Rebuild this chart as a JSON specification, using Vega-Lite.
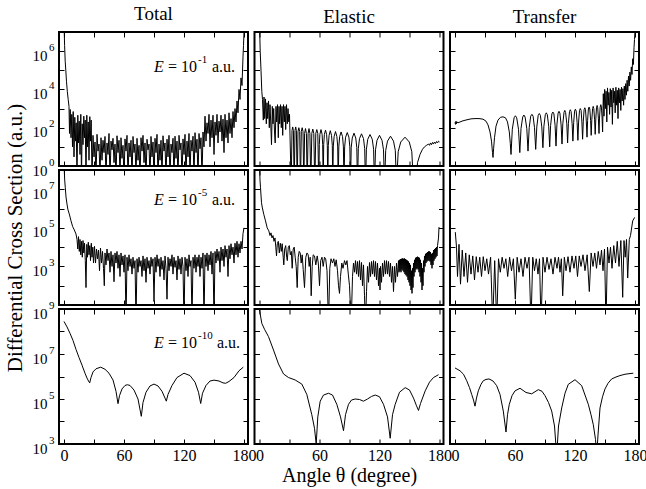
{
"$schema": "https://vega.github.io/schema/vega-lite/v6.json",
"background": "white",
"padding": {"left": 2, "top": 4, "right": 0, "bottom": 2},
"config": {
 "view": {"stroke": "black", "strokeWidth": 2},
 "axis": {"domain": false, "grid": false, "tickColor": "black", "tickSize": -5, "tickWidth": 1, "labelFont": "Liberation Serif", "labelFontSize": 16, "labelColor": "black", "labelPadding": 8, "labelOverlap": false, "labelFlush": false, "titleFont": "Liberation Serif", "titleFontSize": 21, "titleColor": "black", "titleFontWeight": "normal", "titlePadding": 7},
 "text": {"font": "Liberation Serif", "fontSize": 16, "color": "black", "baseline": "middle", "align": "left"}
},
"datasets": {
 "t1": [{"x":0,"y":3e7},{"x":0.6,"y":2e6},{"x":1.2,"y":3e5},{"x":1.8,"y":1e5},{"x":2.5,"y":2.5e4},{"x":3.3,"y":8e3},{"x":4.2,"y":3e3},{"x":5,"y":1300},{"x":5.5,"y":50},{"x":6.2,"y":900},{"x":7,"y":30},{"x":7.8,"y":500},{"x":8.5,"y":10},{"x":9.2,"y":700},{"x":10,"y":3},{"x":10.8,"y":350},{"x":11.5,"y":20},{"x":12.2,"y":180},{"x":13,"y":0.2},{"x":13.8,"y":450},{"x":14.5,"y":16},{"x":15.2,"y":220},{"x":16,"y":4},{"x":16.8,"y":500},{"x":17.5,"y":0.2},{"x":18.2,"y":160},{"x":19,"y":13},{"x":19.8,"y":400},{"x":20.5,"y":30},{"x":21.2,"y":250},{"x":22,"y":0.2},{"x":22.8,"y":450},{"x":23.5,"y":10},{"x":24.2,"y":200},{"x":25,"y":2},{"x":25.8,"y":380},{"x":26.5,"y":20},{"x":27.2,"y":250},{"x":28,"y":0.2},{"x":29,"y":40},{"x":30,"y":3},{"x":31,"y":18},{"x":32,"y":0.2},{"x":33,"y":45},{"x":34,"y":6},{"x":35,"y":14},{"x":36,"y":0.3},{"x":37,"y":30},{"x":38,"y":2},{"x":39,"y":22},{"x":40,"y":5},{"x":41,"y":35},{"x":42,"y":0.2},{"x":43,"y":16},{"x":44,"y":4},{"x":45,"y":50},{"x":46,"y":0.2},{"x":47,"y":20},{"x":48,"y":7},{"x":49,"y":28},{"x":50,"y":1.5},{"x":51,"y":14},{"x":52,"y":0.2},{"x":53,"y":38},{"x":54,"y":5},{"x":55,"y":22},{"x":56,"y":0.3},{"x":57,"y":30},{"x":58,"y":2.5},{"x":59,"y":12},{"x":60,"y":0.2},{"x":61,"y":26},{"x":62,"y":6},{"x":63,"y":40},{"x":64,"y":0.2},{"x":65,"y":16},{"x":66,"y":3},{"x":67,"y":22},{"x":68,"y":0.2},{"x":69,"y":35},{"x":70,"y":5},{"x":71,"y":14},{"x":72,"y":0.3},{"x":73,"y":28},{"x":74,"y":2},{"x":75,"y":12},{"x":76,"y":0.2},{"x":77,"y":30},{"x":78,"y":6},{"x":79,"y":40},{"x":80,"y":1.5},{"x":81,"y":16},{"x":82,"y":0.2},{"x":83,"y":25},{"x":84,"y":7},{"x":85,"y":14},{"x":86,"y":0.2},{"x":87,"y":35},{"x":88,"y":3},{"x":89,"y":18},{"x":90,"y":0.2},{"x":91,"y":28},{"x":92,"y":5},{"x":93,"y":45},{"x":94,"y":0.2},{"x":95,"y":14},{"x":96,"y":2},{"x":97,"y":22},{"x":98,"y":0.3},{"x":99,"y":38},{"x":100,"y":6},{"x":101,"y":16},{"x":102,"y":0.2},{"x":103,"y":25},{"x":104,"y":3},{"x":105,"y":40},{"x":106,"y":0.2},{"x":107,"y":14},{"x":108,"y":5},{"x":109,"y":28},{"x":110,"y":0.2},{"x":111,"y":36},{"x":112,"y":2.5},{"x":113,"y":20},{"x":114,"y":0.2},{"x":115,"y":40},{"x":116,"y":7},{"x":117,"y":16},{"x":118,"y":0.2},{"x":119,"y":26},{"x":120,"y":4},{"x":121,"y":45},{"x":122,"y":0.2},{"x":123,"y":20},{"x":124,"y":3},{"x":125,"y":50},{"x":126,"y":0.3},{"x":127,"y":22},{"x":128,"y":6},{"x":129,"y":36},{"x":130,"y":0.2},{"x":131,"y":55},{"x":132,"y":5},{"x":133,"y":25},{"x":134,"y":0.2},{"x":135,"y":50},{"x":136,"y":8},{"x":137,"y":30},{"x":138,"y":0.2},{"x":139,"y":60},{"x":140,"y":10},{"x":141,"y":400},{"x":142,"y":20},{"x":143,"y":180},{"x":144,"y":50},{"x":145,"y":500},{"x":146,"y":10},{"x":147,"y":250},{"x":148,"y":30},{"x":149,"y":450},{"x":150,"y":4},{"x":151,"y":200},{"x":152,"y":40},{"x":153,"y":500},{"x":154,"y":16},{"x":155,"y":220},{"x":156,"y":60},{"x":157,"y":450},{"x":158,"y":20},{"x":159,"y":280},{"x":160,"y":5},{"x":161,"y":500},{"x":162,"y":30},{"x":163,"y":250},{"x":164,"y":16},{"x":165,"y":600},{"x":166,"y":50},{"x":167,"y":300},{"x":168,"y":30},{"x":169,"y":700},{"x":170,"y":100},{"x":171,"y":1000},{"x":172,"y":200},{"x":173,"y":2500},{"x":174,"y":600},{"x":175,"y":1e4},{"x":176,"y":3000},{"x":177,"y":4e4},{"x":178,"y":1.6e4},{"x":179,"y":5e5},{"x":179.5,"y":2e6},{"x":180,"y":1e7}],
 "e1": [{"x":0,"y":3e7},{"x":0.7,"y":1e6},{"x":1.5,"y":1e5},{"x":2.3,"y":8e3},{"x":3,"y":3e3},{"x":3.8,"y":250},{"x":4.5,"y":4000},{"x":5.2,"y":300},{"x":6,"y":3200},{"x":6.8,"y":160},{"x":7.5,"y":2000},{"x":8.2,"y":300},{"x":9,"y":2500},{"x":9.8,"y":100},{"x":10.5,"y":1600},{"x":11.2,"y":200},{"x":12,"y":13},{"x":12.8,"y":1300},{"x":13.5,"y":160},{"x":14.2,"y":1000},{"x":15,"y":60},{"x":15.7,"y":16},{"x":16.5,"y":1300},{"x":17.2,"y":200},{"x":18,"y":1600},{"x":18.8,"y":30},{"x":19.5,"y":1300},{"x":20.2,"y":160},{"x":21,"y":1600},{"x":21.8,"y":100},{"x":22.5,"y":1300},{"x":23.2,"y":40},{"x":24,"y":1600},{"x":24.8,"y":200},{"x":25.5,"y":1300},{"x":26.2,"y":80},{"x":27,"y":1600},{"x":27.8,"y":160},{"x":28.5,"y":1000},{"x":29.3,"y":200},{"x":30,"y":500},
  {"x":31.7,"y":0.1},{"x":32.5,"y":70},{"x":33.2,"y":110},{"x":33.9,"y":70},{"x":34.7,"y":0.1},{"x":35.5,"y":70},{"x":36.2,"y":110},{"x":36.9,"y":70},{"x":37.7,"y":0.1},{"x":38.5,"y":63},{"x":39.35,"y":100},{"x":40.2,"y":63},{"x":41,"y":0.1},{"x":41.8,"y":63},{"x":42.65,"y":100},{"x":43.5,"y":63},{"x":44.3,"y":0.1},{"x":45.1,"y":50},{"x":46,"y":90},{"x":46.9,"y":50},{"x":47.7,"y":0.1},{"x":48.6,"y":50},{"x":49.5,"y":90},{"x":50.4,"y":50},{"x":51.3,"y":0.1},{"x":52.3,"y":50},{"x":53.3,"y":85},{"x":54.3,"y":50},{"x":55.3,"y":0.1},{"x":56.3,"y":50},{"x":57.3,"y":80},{"x":58.3,"y":50},{"x":59.3,"y":0.1},{"x":59.8,"y":13},{"x":60.4,"y":45},{"x":61.5,"y":80},{"x":62.6,"y":45},{"x":63.2,"y":13},{"x":63.7,"y":0.1},{"x":64.2,"y":13},{"x":64.9,"y":45},{"x":66,"y":75},{"x":67.1,"y":45},{"x":67.8,"y":12},{"x":68.3,"y":0.1},{"x":68.8,"y":12},{"x":69.6,"y":40},{"x":70.8,"y":70},{"x":72,"y":40},{"x":72.8,"y":12},{"x":73.3,"y":0.1},{"x":73.8,"y":11},{"x":74.65,"y":35},{"x":76,"y":63},{"x":77.35,"y":35},{"x":78.2,"y":11},{"x":78.7,"y":0.1},{"x":79.3,"y":10},{"x":80.15,"y":34},{"x":81.6,"y":60},{"x":83.05,"y":34},{"x":83.9,"y":10},{"x":84.5,"y":0.1},{"x":85.15,"y":10},{"x":86.1,"y":32},{"x":87.75,"y":56},{"x":89.4,"y":32},{"x":90.35,"y":10},{"x":91,"y":0.1},{"x":91.7,"y":9},{"x":92.75,"y":29},{"x":94.5,"y":52},{"x":96.25,"y":29},{"x":97.3,"y":9},{"x":98,"y":0.1},{"x":98.8,"y":8},{"x":100,"y":27},{"x":102,"y":48},{"x":104,"y":27},{"x":105.2,"y":8},{"x":106,"y":0.1},{"x":106.9,"y":7.5},{"x":108.25,"y":25},{"x":110.5,"y":44},{"x":112.75,"y":25},{"x":114.1,"y":7.5},{"x":115,"y":0.1},{"x":116,"y":7},{"x":117.5,"y":22},{"x":120,"y":40},{"x":122.5,"y":22},{"x":124,"y":7},{"x":125,"y":0.1},{"x":126.2,"y":6.5},{"x":128,"y":20},{"x":131,"y":36},{"x":134,"y":20},{"x":135.8,"y":6.5},{"x":137,"y":0.1},{"x":138.7,"y":5.6},{"x":141.25,"y":18},{"x":145.5,"y":32},{"x":149.75,"y":18},{"x":152.3,"y":5.6},{"x":154,"y":0.1},{"x":156.5,"y":0.1},{"x":158,"y":1.5},{"x":160.5,"y":4},{"x":163,"y":7.5},{"x":165,"y":10},{"x":167,"y":12},{"x":169,"y":14},{"x":170,"y":12},{"x":171,"y":16},{"x":172,"y":13},{"x":173,"y":17},{"x":174,"y":14},{"x":175,"y":18},{"x":176,"y":15},{"x":177,"y":19},{"x":178,"y":16},{"x":179,"y":20},{"x":180,"y":18}],
 "r1": [{"x":0,"y":190},{"x":0.5,"y":150},{"x":1,"y":220},{"x":1.5,"y":160},{"x":2,"y":200},{"x":3,"y":180},{"x":5,"y":200},{"x":8,"y":230},{"x":12,"y":260},{"x":16,"y":290},{"x":20,"y":300},{"x":24,"y":300},{"x":28,"y":280},{"x":31,"y":220},{"x":33,"y":140},{"x":35,"y":60},{"x":36.5,"y":20},{"x":37.5,"y":5},{"x":38,"y":2.8},{"x":38.6,"y":8},{"x":39.5,"y":30},{"x":41,"y":120},{"x":43,"y":250},{"x":45.5,"y":350},{"x":48,"y":370},{"x":50.5,"y":330},{"x":52.5,"y":200},{"x":54.3,"y":60},{"x":55.3,"y":15},{"x":56,"y":4},
  {"x":57.3,"y":83},{"x":59.1,"y":330},{"x":60.4,"y":420},{"x":61.7,"y":330},{"x":63.5,"y":83},{"x":64.8,"y":5},{"x":66,"y":90},{"x":67.7,"y":360},{"x":68.9,"y":460},{"x":70.1,"y":360},{"x":71.8,"y":90},{"x":73,"y":6},{"x":74.2,"y":100},{"x":75.7,"y":400},{"x":76.9,"y":500},{"x":78.1,"y":400},{"x":79.5,"y":100},{"x":80.7,"y":7.4},{"x":81.8,"y":110},{"x":83.2,"y":440},{"x":84.3,"y":550},{"x":85.4,"y":440},{"x":86.8,"y":110},{"x":87.9,"y":9},{"x":88.9,"y":120},{"x":90.3,"y":480},{"x":91.3,"y":600},{"x":92.3,"y":480},{"x":93.7,"y":120},{"x":94.7,"y":10},{"x":95.6,"y":130},{"x":96.9,"y":530},{"x":97.9,"y":660},{"x":98.9,"y":530},{"x":100.1,"y":130},{"x":101,"y":11},{"x":101.9,"y":140},{"x":103.1,"y":580},{"x":104,"y":720},{"x":104.9,"y":580},{"x":106.1,"y":140},{"x":107,"y":14},{"x":107.8,"y":160},{"x":109,"y":630},{"x":109.8,"y":800},{"x":110.6,"y":630},{"x":111.8,"y":160},{"x":112.6,"y":16},{"x":113.4,"y":170},{"x":114.5,"y":700},{"x":115.3,"y":870},{"x":116.1,"y":700},{"x":117.1,"y":170},{"x":117.9,"y":20},{"x":118.7,"y":190},{"x":119.6,"y":740},{"x":120.4,"y":930},{"x":121.2,"y":740},{"x":122.1,"y":190},{"x":122.9,"y":22},{"x":123.6,"y":200},{"x":124.5,"y":800},{"x":125.3,"y":1000},{"x":126.1,"y":800},{"x":126.9,"y":200},{"x":127.6,"y":25},{"x":128.3,"y":220},{"x":129.1,"y":870},{"x":129.8,"y":1100},{"x":130.5,"y":870},{"x":131.3,"y":220},{"x":132,"y":32},{"x":132.6,"y":240},{"x":133.4,"y":950},{"x":134.1,"y":1200},{"x":134.8,"y":950},{"x":135.6,"y":240},{"x":136.2,"y":40},{"x":136.8,"y":260},{"x":137.6,"y":1000},{"x":138.2,"y":1300},{"x":138.8,"y":1000},{"x":139.6,"y":260},{"x":140.2,"y":45},{"x":140.8,"y":290},{"x":141.5,"y":1100},{"x":142.1,"y":1450},{"x":142.7,"y":1100},{"x":143.4,"y":290},{"x":144,"y":50},{"x":144.5,"y":320},{"x":145.2,"y":1200},{"x":145.8,"y":1600},{"x":146.4,"y":1200},{"x":147.1,"y":320},{"x":147.6,"y":60},
  {"x":148.3,"y":6000},{"x":149,"y":400},{"x":149.7,"y":1e4},{"x":150.4,"y":1000},{"x":151.1,"y":8000},{"x":151.8,"y":200},{"x":152.5,"y":1.2e4},{"x":153.2,"y":1500},{"x":153.9,"y":7000},{"x":154.6,"y":500},{"x":155.3,"y":1.1e4},{"x":156,"y":1200},{"x":156.7,"y":9000},{"x":157.4,"y":150},{"x":158.1,"y":1.2e4},{"x":158.8,"y":2000},{"x":159.5,"y":8000},{"x":160.2,"y":600},{"x":160.9,"y":1.3e4},{"x":161.6,"y":1500},{"x":162.3,"y":9000},{"x":163,"y":300},{"x":163.7,"y":1.2e4},{"x":164.4,"y":2000},{"x":165.1,"y":1e4},{"x":165.8,"y":800},{"x":166.5,"y":1.3e4},{"x":167.2,"y":2500},{"x":167.9,"y":1.1e4},{"x":168.6,"y":1500},{"x":169.3,"y":1.5e4},{"x":170,"y":3000},{"x":170.7,"y":2e4},{"x":171.4,"y":5000},{"x":172.1,"y":3e4},{"x":172.8,"y":8000},{"x":173.5,"y":5e4},{"x":174.2,"y":1.5e4},{"x":174.9,"y":8e4},{"x":175.6,"y":3e4},{"x":176.3,"y":1.5e5},{"x":177,"y":6e4},{"x":177.7,"y":4e5},{"x":178.4,"y":2e5},{"x":179,"y":1.5e6},{"x":179.5,"y":4e6},{"x":180,"y":1.2e7}],
 "t2": [{"x":0,"y":2e8},{"x":0.7,"y":3e7},{"x":1.3,"y":1.2e7},{"x":2,"y":4e6},{"x":3,"y":1.7e6},{"x":4,"y":8.5e5},{"x":5.3,"y":5.2e5},{"x":7,"y":2.3e5},{"x":8.7,"y":1.15e5},{"x":10.3,"y":7.8e4},{"x":12,"y":4.8e4},{"x":13,"y":2.5e4},{"x":13.8,"y":8000},{"x":14.5,"y":3.5e4},{"x":15.3,"y":6000},{"x":16,"y":2.5e4},{"x":16.8,"y":4000},{"x":17.5,"y":2e4},{"x":18.3,"y":3000},{"x":19,"y":2.2e4},{"x":19.8,"y":5000},{"x":20.5,"y":1.6e4},{"x":21.3,"y":2000},{"x":22,"y":80},{"x":22.8,"y":1.4e4},{"x":23.5,"y":3000},{"x":24.3,"y":1.8e4},{"x":25,"y":4000},{"x":25.8,"y":1.2e4},{"x":26.5,"y":2000},{"x":27.3,"y":1.6e4},{"x":28,"y":3000},{"x":28.8,"y":1e4},{"x":29.5,"y":1500},{"x":30.5,"y":1.1e4},{"x":31.5,"y":1500},{"x":32.5,"y":8000},{"x":33.5,"y":2500},{"x":34.5,"y":7000},{"x":35.5,"y":600},{"x":36.5,"y":9000},{"x":37.5,"y":1500},{"x":38.5,"y":6000},{"x":39.5,"y":800},{"x":40.3,"y":100},{"x":41,"y":5000},{"x":42,"y":1200},{"x":43,"y":8000},{"x":44,"y":2000},{"x":45,"y":5000},{"x":46,"y":500},{"x":47,"y":6000},{"x":48,"y":1000},{"x":49,"y":4000},{"x":50,"y":160},{"x":51,"y":5000},{"x":52,"y":1500},{"x":53,"y":6000},{"x":54,"y":800},{"x":55,"y":4000},{"x":56,"y":300},{"x":57,"y":5000},{"x":58,"y":1200},{"x":59,"y":3500},{"x":60,"y":500},{"x":61,"y":4000},{"x":62,"y":1},{"x":63,"y":3000},{"x":64,"y":600},{"x":65,"y":4000},{"x":66,"y":1000},{"x":67,"y":2500},{"x":68,"y":400},{"x":69,"y":3000},{"x":70,"y":800},{"x":71,"y":2000},{"x":72,"y":1},{"x":73,"y":2500},{"x":74,"y":500},{"x":75,"y":3000},{"x":76,"y":1000},{"x":77,"y":2000},{"x":78,"y":300},{"x":79,"y":3500},{"x":80,"y":600},{"x":81,"y":2500},{"x":82,"y":150},{"x":83,"y":3000},{"x":84,"y":800},{"x":85,"y":2000},{"x":86,"y":400},{"x":87,"y":3000},{"x":88,"y":1000},{"x":89,"y":2500},{"x":90,"y":15},{"x":91,"y":3000},{"x":92,"y":500},{"x":93,"y":4000},{"x":94,"y":1000},{"x":95,"y":2500},{"x":96,"y":300},{"x":97,"y":3000},{"x":98,"y":700},{"x":99,"y":2000},{"x":100,"y":200},{"x":101,"y":3500},{"x":102,"y":800},{"x":103,"y":20},{"x":104,"y":3000},{"x":105,"y":600},{"x":106,"y":2500},{"x":107,"y":1000},{"x":108,"y":4000},{"x":109,"y":400},{"x":110,"y":3000},{"x":111,"y":900},{"x":112,"y":2000},{"x":113,"y":200},{"x":114,"y":3500},{"x":115,"y":700},{"x":116,"y":2500},{"x":117,"y":400},{"x":118,"y":3000},{"x":119,"y":1000},{"x":120,"y":1},{"x":121,"y":3000},{"x":122,"y":600},{"x":123,"y":2500},{"x":124,"y":300},{"x":125,"y":4000},{"x":126,"y":1000},{"x":127,"y":2000},{"x":128,"y":1},{"x":129,"y":3000},{"x":130,"y":800},{"x":131,"y":4000},{"x":132,"y":500},{"x":133,"y":3000},{"x":134,"y":1000},{"x":135,"y":4000},{"x":136,"y":300},{"x":137,"y":3000},{"x":138,"y":800},{"x":139,"y":5000},{"x":140,"y":1},{"x":141,"y":4000},{"x":142,"y":1000},{"x":143,"y":5000},{"x":144,"y":600},{"x":145,"y":4000},{"x":146,"y":1200},{"x":147,"y":6000},{"x":148,"y":400},{"x":149,"y":5000},{"x":150,"y":1},{"x":151,"y":6000},{"x":152,"y":1500},{"x":153,"y":8000},{"x":154,"y":2000},{"x":155,"y":6000},{"x":156,"y":500},{"x":157,"y":1e4},{"x":158,"y":2000},{"x":159,"y":8000},{"x":160,"y":1000},{"x":161,"y":1.2e4},{"x":162,"y":3000},{"x":163,"y":8000},{"x":164,"y":300},{"x":165,"y":1.2e4},{"x":166,"y":2500},{"x":167,"y":1.5e4},{"x":168,"y":4000},{"x":169,"y":1e4},{"x":170,"y":1500},{"x":171,"y":1.6e4},{"x":172,"y":4000},{"x":173,"y":2e4},{"x":174,"y":3000},{"x":175,"y":1.5e4},{"x":176,"y":5000},{"x":177,"y":2e4},{"x":178,"y":8000},{"x":179,"y":5e4},{"x":180,"y":1e5}],
 "e2": [{"x":0,"y":2e8},{"x":0.5,"y":3e7},{"x":1,"y":1.2e7},{"x":2,"y":2e6},{"x":2.7,"y":1.2e6},{"x":4.3,"y":5e5},{"x":6,"y":2.3e5},{"x":7.7,"y":1e5},{"x":9.3,"y":7e4},{"x":10.5,"y":4e4},{"x":11.5,"y":5.5e4},{"x":12.5,"y":3e4},{"x":13.5,"y":4e4},{"x":14.5,"y":2e4},{"x":15.5,"y":3e4},{"x":16.3,"y":1e4},{"x":17,"y":3500},{"x":17.8,"y":1.5e4},{"x":18.8,"y":2e4},{"x":19.8,"y":5000},{"x":20.8,"y":1.6e4},{"x":21.8,"y":6000},{"x":22.7,"y":1.5e4},{"x":23.7,"y":3000},{"x":24.3,"y":1200},{"x":25.2,"y":8000},{"x":26.2,"y":1.2e4},{"x":27.2,"y":3000},{"x":27.8,"y":2000},{"x":28.8,"y":1e4},{"x":29.8,"y":1.2e4},{"x":30.8,"y":4000},{"x":31.8,"y":6000},{"x":32.7,"y":800},{"x":33.7,"y":8000},{"x":34.7,"y":1e4},{"x":35.7,"y":3000},{"x":36.7,"y":1000},{"x":37.7,"y":80},{"x":38.7,"y":3000},{"x":39.7,"y":6000},{"x":40.7,"y":5000},{"x":41.7,"y":1500},{"x":42.7,"y":4000},{"x":43.7,"y":700},{"x":45,"y":80},{"x":46.3,"y":3000},{"x":47.5,"y":5000},{"x":48.7,"y":4000},{"x":49.7,"y":1000},{"x":50.7,"y":3000},{"x":51.7,"y":30},{"x":52.7,"y":1000},{"x":53.7,"y":4000},{"x":55,"y":3500},{"x":56.3,"y":1200},{"x":57.7,"y":3500},{"x":58.8,"y":1500},{"x":60,"y":100},{"x":61.2,"y":2000},{"x":62.5,"y":3000},{"x":63.7,"y":1000},{"x":65,"y":3000},{"x":66.2,"y":2500},{"x":67.5,"y":600},{"x":69,"y":1},{"x":70.3,"y":800},{"x":71.5,"y":2500},{"x":73,"y":1500},{"x":74.3,"y":2500},{"x":75.5,"y":1000},{"x":76.7,"y":2200},{"x":78,"y":600},{"x":79,"y":100},{"x":80,"y":40},{"x":81,"y":300},{"x":82.3,"y":1500},{"x":83.5,"y":800},{"x":85,"y":2000},{"x":86.3,"y":1200},{"x":87.5,"y":2000},{"x":88.8,"y":400},{"x":90,"y":100},{"x":91.7,"y":1},{"x":93,"y":300},{"x":94,"y":1500},{"x":95,"y":500},{"x":96,"y":2000},{"x":97,"y":400},{"x":98,"y":1800},{"x":99,"y":300},{"x":100,"y":2000},{"x":101,"y":200},{"x":102,"y":1600},{"x":103,"y":100},{"x":104,"y":1200},{"x":105,"y":30},{"x":106,"y":1},{"x":107,"y":50},{"x":108,"y":1000},{"x":109,"y":150},{"x":110,"y":1600},{"x":111,"y":300},{"x":112,"y":1800},{"x":113,"y":400},{"x":114,"y":2000},{"x":115,"y":300},{"x":116,"y":1800},{"x":117,"y":200},{"x":118,"y":1500},{"x":119,"y":100},{"x":120,"y":800},{"x":120.5,"y":60},{"x":121,"y":1000},{"x":122,"y":150},{"x":123,"y":1500},{"x":124,"y":300},{"x":125,"y":2000},{"x":126,"y":400},{"x":127,"y":2000},{"x":128,"y":400},{"x":129,"y":1800},{"x":130,"y":300},{"x":131,"y":1500},{"x":132,"y":150},{"x":133,"y":1000},{"x":134,"y":50},{"x":135,"y":1000},{"x":136,"y":150},{"x":137,"y":1500},{"x":138,"y":300},{"x":139,"y":2000},{"x":139.5,"y":500},{"x":140,"y":2200},{"x":140.5,"y":600},{"x":141,"y":2400},{"x":141.5,"y":500},{"x":142,"y":2500},{"x":142.5,"y":700},{"x":143,"y":2600},{"x":143.5,"y":600},{"x":144,"y":2500},{"x":144.5,"y":500},{"x":145,"y":2600},{"x":145.5,"y":400},{"x":146,"y":2400},{"x":146.5,"y":350},{"x":147,"y":2200},{"x":147.5,"y":300},{"x":148,"y":2000},{"x":148.5,"y":200},{"x":149,"y":1800},{"x":149.5,"y":150},{"x":150,"y":1500},{"x":150.5,"y":100},{"x":151,"y":1200},{"x":151.5,"y":60},{"x":152,"y":600},{"x":152.5,"y":40},{"x":153,"y":800},{"x":153.5,"y":80},{"x":154,"y":1500},{"x":154.5,"y":300},{"x":155,"y":2200},{"x":155.5,"y":500},{"x":156,"y":2800},{"x":156.5,"y":700},{"x":157,"y":3000},{"x":157.5,"y":800},{"x":158,"y":3200},{"x":158.5,"y":700},{"x":159,"y":3000},{"x":159.5,"y":500},{"x":160,"y":2800},{"x":160.5,"y":300},{"x":161,"y":2200},{"x":161.5,"y":150},{"x":162,"y":1500},{"x":162.5,"y":60},{"x":163,"y":800},{"x":163.5,"y":100},{"x":164,"y":2000},{"x":164.5,"y":500},{"x":165,"y":3500},{"x":165.5,"y":1000},{"x":166,"y":4500},{"x":166.5,"y":1500},{"x":167,"y":5000},{"x":167.5,"y":1800},{"x":168,"y":5500},{"x":168.5,"y":2000},{"x":169,"y":6000},{"x":169.5,"y":2000},{"x":170,"y":6000},{"x":170.5,"y":1800},{"x":171,"y":5500},{"x":171.5,"y":1200},{"x":172,"y":4500},{"x":172.5,"y":800},{"x":173,"y":5000},{"x":173.5,"y":1200},{"x":174,"y":7000},{"x":174.5,"y":2000},{"x":175,"y":8000},{"x":175.5,"y":2500},{"x":176,"y":9000},{"x":176.5,"y":3000},{"x":177,"y":1e4},{"x":177.5,"y":3500},{"x":178,"y":1.2e4},{"x":179,"y":3e4},{"x":179.5,"y":1.1e5}],
 "r2": [{"x":0.3,"y":6e4},{"x":1.5,"y":1e4},{"x":2.5,"y":300},{"x":4,"y":1.4e4},{"x":5.5,"y":120},{"x":7.25,"y":7000},{"x":9,"y":300},{"x":10.75,"y":5000},{"x":12.5,"y":150},{"x":14.25,"y":4000},{"x":16,"y":400},{"x":17.75,"y":3500},{"x":19.5,"y":200},{"x":21.25,"y":3200},{"x":23,"y":500},{"x":24.75,"y":3000},{"x":26.5,"y":300},{"x":28.25,"y":3200},{"x":30,"y":600},{"x":31.75,"y":2500},{"x":33.5,"y":400},{"x":35.6,"y":3000},{"x":37.7,"y":1},{"x":39.7,"y":2000},{"x":41.7,"y":1},{"x":43.5,"y":2500},{"x":45.3,"y":500},{"x":47.15,"y":3000},{"x":49,"y":800},{"x":50.85,"y":2500},{"x":52.7,"y":300},{"x":54.6,"y":3000},{"x":56.5,"y":600},{"x":58.4,"y":2500},{"x":60.3,"y":20},{"x":62.15,"y":3000},{"x":64,"y":500},{"x":66,"y":2500},{"x":68,"y":300},{"x":70,"y":3000},{"x":72,"y":800},{"x":74,"y":3000},{"x":76,"y":1},{"x":77.75,"y":3000},{"x":79.5,"y":600},{"x":81.25,"y":2500},{"x":83,"y":400},{"x":84.5,"y":2500},{"x":86,"y":1},{"x":88,"y":3000},{"x":90,"y":500},{"x":92,"y":3000},{"x":94,"y":700},{"x":96,"y":2500},{"x":98,"y":400},{"x":100,"y":3000},{"x":102,"y":800},{"x":103.5,"y":3000},{"x":105,"y":500},{"x":106.35,"y":2500},{"x":107.7,"y":30},{"x":109.35,"y":3000},{"x":111,"y":600},{"x":113,"y":3200},{"x":115,"y":500},{"x":117,"y":3500},{"x":119,"y":800},{"x":120.75,"y":3500},{"x":122.5,"y":300},{"x":124.25,"y":3500},{"x":126,"y":1000},{"x":128,"y":4000},{"x":130,"y":600},{"x":132.15,"y":4000},{"x":134.3,"y":50},{"x":136.15,"y":5000},{"x":138,"y":1000},{"x":139.75,"y":5000},{"x":141.5,"y":800},{"x":143.25,"y":6000},{"x":145,"y":1200},{"x":146.5,"y":7000},{"x":148,"y":600},{"x":149.5,"y":8000},{"x":151,"y":1},{"x":152.5,"y":1e4},{"x":154,"y":1500},{"x":155.5,"y":1e4},{"x":157,"y":800},{"x":158.75,"y":1.2e4},{"x":160.5,"y":1500},{"x":162.25,"y":2e4},{"x":164,"y":1000},{"x":165.85,"y":2.2e4},{"x":167.7,"y":25},{"x":169,"y":2.2e4},{"x":170.2,"y":3000},{"x":171.5,"y":2.5e4},{"x":172.7,"y":250},{"x":174.3,"y":2.5e4},{"x":175.5,"y":4e4},{"x":177.7,"y":2.3e5},{"x":179.7,"y":3.5e5}],
 "t3": [{"x":0,"y":2.8e8},{"x":3,"y":1.6e8},{"x":6,"y":8.3e7},{"x":9,"y":4e7},{"x":12,"y":1.6e7},{"x":15,"y":7e6},{"x":18,"y":3.2e6},{"x":21,"y":1.4e6},{"x":23,"y":8.5e5},{"x":24.5,"y":6.3e5},{"x":25.7,"y":5.2e5},{"x":27,"y":9e5},{"x":29,"y":1.6e6},{"x":32,"y":2.2e6},{"x":36.7,"y":2.6e6},{"x":41,"y":2.1e6},{"x":45,"y":1.4e6},{"x":49,"y":7e5},{"x":52,"y":2.2e5},{"x":54,"y":6.2e4},{"x":55.5,"y":1.4e5},{"x":58,"y":2.8e5},{"x":61,"y":4e5},{"x":63.3,"y":4.3e5},{"x":66,"y":4e5},{"x":70,"y":2.5e5},{"x":74,"y":1e5},{"x":77.3,"y":1.7e4},{"x":79,"y":7e4},{"x":82,"y":2e5},{"x":86,"y":3.8e5},{"x":90,"y":4.6e5},{"x":94,"y":3.8e5},{"x":98,"y":2.2e5},{"x":101,"y":1.1e5},{"x":102.3,"y":8e4},{"x":104,"y":1.6e5},{"x":108,"y":4e5},{"x":113,"y":9e5},{"x":120,"y":1.4e6},{"x":126,"y":1.1e6},{"x":131,"y":5.6e5},{"x":134.5,"y":2e5},{"x":136.7,"y":6.3e4},{"x":138.5,"y":1.8e5},{"x":142,"y":4e5},{"x":146,"y":6.3e5},{"x":150,"y":6.9e5},{"x":155,"y":6.3e5},{"x":159,"y":5.2e5},{"x":161.7,"y":5e5},{"x":165,"y":6e5},{"x":170,"y":9e5},{"x":175,"y":1.8e6},{"x":179.3,"y":2.6e6}],
 "e3": [{"x":0,"y":9e8},{"x":2.3,"y":2.3e8},{"x":5,"y":1.26e8},{"x":9,"y":5.9e7},{"x":14,"y":1.5e7},{"x":19,"y":3.6e6},{"x":24,"y":1.3e6},{"x":29,"y":9e5},{"x":35.7,"y":7e5},{"x":42.3,"y":4.6e5},{"x":47.3,"y":1.6e5},{"x":52.3,"y":2e4},{"x":55,"y":5000},{"x":56.7,"y":1000},{"x":58.3,"y":1.6e4},{"x":60.7,"y":8e4},{"x":64,"y":1.5e5},{"x":69,"y":1.8e5},{"x":73,"y":1.5e5},{"x":77.3,"y":5.8e4},{"x":81,"y":1.6e4},{"x":84,"y":3900},{"x":86,"y":2e4},{"x":89,"y":5.8e4},{"x":92,"y":9e4},{"x":95.7,"y":1e5},{"x":100,"y":9.5e4},{"x":104,"y":8e4},{"x":108,"y":1e5},{"x":112,"y":1.3e5},{"x":115.7,"y":1.5e5},{"x":120,"y":1.26e5},{"x":124,"y":5.8e4},{"x":128,"y":1.6e4},{"x":130.7,"y":1800},{"x":133,"y":2e4},{"x":135.7,"y":5.8e4},{"x":140,"y":2e5},{"x":145.7,"y":3.2e5},{"x":150,"y":2.5e5},{"x":154,"y":1.1e5},{"x":157,"y":5e4},{"x":159,"y":3.1e4},{"x":161,"y":6.3e4},{"x":165.7,"y":2.3e5},{"x":170,"y":5.6e5},{"x":174,"y":9e5},{"x":179,"y":1.2e6}],
 "r3": [{"x":0,"y":2.4e6},{"x":5,"y":1.8e6},{"x":8.5,"y":1.26e6},{"x":11.7,"y":6.5e5},{"x":14.5,"y":3.2e5},{"x":16.7,"y":1.6e5},{"x":18.5,"y":9e4},{"x":20,"y":4.8e4},{"x":21.5,"y":1.1e5},{"x":23.3,"y":2.3e5},{"x":26,"y":4.5e5},{"x":28.3,"y":6.5e5},{"x":31,"y":7.4e5},{"x":34,"y":7.8e5},{"x":38,"y":6.3e5},{"x":41.7,"y":3.9e5},{"x":45,"y":1.6e5},{"x":48.3,"y":2.9e4},{"x":51,"y":3400},{"x":52.5,"y":2e4},{"x":54.3,"y":5.8e4},{"x":57,"y":1.4e5},{"x":60,"y":2.3e5},{"x":65,"y":3e5},{"x":71,"y":1.95e5},{"x":76.7,"y":1.7e5},{"x":83.3,"y":2.6e5},{"x":87,"y":2.2e5},{"x":90,"y":1.4e5},{"x":93.5,"y":7e4},{"x":96.7,"y":2.9e4},{"x":99.5,"y":6300},{"x":101.7,"y":300},{"x":103.5,"y":6300},{"x":106.7,"y":4e4},{"x":110,"y":1.8e5},{"x":113.3,"y":4.5e5},{"x":120,"y":7.2e5},{"x":126.7,"y":3.9e5},{"x":133.3,"y":5.8e4},{"x":136,"y":2e4},{"x":138.3,"y":7200},{"x":140.5,"y":1600},{"x":141.7,"y":300},{"x":143,"y":2500},{"x":145,"y":4e4},{"x":147.5,"y":1.26e5},{"x":150,"y":2.8e5},{"x":153,"y":5e5},{"x":156.7,"y":7.8e5},{"x":161,"y":9.5e5},{"x":165,"y":1.1e6},{"x":170,"y":1.26e6},{"x":175,"y":1.35e6},{"x":178.3,"y":1.4e6}]
},
"columns": 3,
"spacing": {"row": 4, "column": 6.5},
"bounds": "flush",
"concat": [
 {"width": 189, "height": 134, "title": {"text": "Total", "font": "Liberation Serif", "fontSize": 19, "fontWeight": "normal", "color": "black", "anchor": "middle", "offset": 5}, "data": {"name": "t1"},
  "layer": [
   {"mark": {"type": "line", "clip": true, "color": "black", "strokeWidth": 1},
    "encoding": {
     "x": {"field": "x", "type": "quantitative", "scale": {"domain": [-5, 184], "nice": false, "zero": false}, "axis": {"orient": "bottom", "values": [0,30,60,90,120,150,180], "labels": false, "title": null}},
     "y": {"field": "y", "type": "quantitative", "scale": {"type": "log", "domain": [1, 1e7], "nice": false}, "axis": {"orient": "left", "values": [1,10,100,1000,1e4,1e5,1e6,1e7], "labelExpr": "round(log(datum.value)/LN10) % 2 == 0 ? '10' : ''", "labelFontSize": 15, "labelPadding": 17, "labelOffset": 4, "title": null}}}},
   {"data": {"values": [{}]}, "mark": {"type": "point", "opacity": 0},
    "encoding": {
     "x": {"datum": 90, "type": "quantitative", "scale": {"domain": [-5, 184], "nice": false, "zero": false}, "axis": {"orient": "top", "values": [0,30,60,90,120,150,180], "labels": false, "title": null}},
     "y": {"datum": 100, "type": "quantitative", "scale": {"type": "log", "domain": [1, 1e7], "nice": false}, "axis": {"orient": "right", "values": [1,10,100,1000,1e4,1e5,1e6,1e7], "labels": false, "title": null}}}},
   {"data": {"values": [{}]}, "mark": {"type": "point", "opacity": 0},
    "encoding": {
     "x": {"datum": 90, "type": "quantitative", "scale": {"domain": [-5, 184], "nice": false, "zero": false}, "axis": null},
     "y": {"datum": 100, "type": "quantitative", "scale": {"type": "log", "domain": [1, 1e7], "nice": false}, "axis": {"orient": "left", "values": [1,100,1e4,1e6], "ticks": false, "labelExpr": "format(round(log(datum.value)/LN10), 'd')", "labelFontSize": 11, "labelPadding": 5, "labelOffset": -4, "title": null}}}},
   {"data": {"values": [{"t": "E"}]}, "mark": {"type": "text", "fontStyle": "italic"},
    "encoding": {"text": {"field": "t"},
     "x": {"datum": 90, "type": "quantitative", "scale": {"domain": [-5, 184], "nice": false, "zero": false}, "axis": null},
     "y": {"datum": 1.4e5, "type": "quantitative", "scale": {"type": "log", "domain": [1, 1e7], "nice": false}, "axis": null}}},
   {"data": {"values": [{"t": "= 10"}]}, "mark": {"type": "text"},
    "encoding": {"text": {"field": "t"},
     "x": {"datum": 104, "type": "quantitative", "scale": {"domain": [-5, 184], "nice": false, "zero": false}, "axis": null},
     "y": {"datum": 1.4e5, "type": "quantitative", "scale": {"type": "log", "domain": [1, 1e7], "nice": false}, "axis": null}}},
   {"data": {"values": [{"t": "-1"}]}, "mark": {"type": "text", "fontSize": 11, "dy": -7},
    "encoding": {"text": {"field": "t"},
     "x": {"datum": 134, "type": "quantitative", "scale": {"domain": [-5, 184], "nice": false, "zero": false}, "axis": null},
     "y": {"datum": 1.4e5, "type": "quantitative", "scale": {"type": "log", "domain": [1, 1e7], "nice": false}, "axis": null}}},
   {"data": {"values": [{"t": "a.u."}]}, "mark": {"type": "text"},
    "encoding": {"text": {"field": "t"},
     "x": {"datum": 148, "type": "quantitative", "scale": {"domain": [-5, 184], "nice": false, "zero": false}, "axis": null},
     "y": {"datum": 1.4e5, "type": "quantitative", "scale": {"type": "log", "domain": [1, 1e7], "nice": false}, "axis": null}}}
  ],
  "resolve": {"axis": {"x": "independent", "y": "independent"}}},
 {"width": 189, "height": 134, "title": {"text": "Elastic", "font": "Liberation Serif", "fontSize": 19, "fontWeight": "normal", "color": "black", "anchor": "middle", "offset": 5}, "data": {"name": "e1"},
  "layer": [
   {"mark": {"type": "line", "clip": true, "color": "black", "strokeWidth": 1},
    "encoding": {
     "x": {"field": "x", "type": "quantitative", "scale": {"domain": [-5, 184], "nice": false, "zero": false}, "axis": {"orient": "bottom", "values": [0,30,60,90,120,150,180], "labels": false, "title": null}},
     "y": {"field": "y", "type": "quantitative", "scale": {"type": "log", "domain": [1, 1e7], "nice": false}, "axis": {"orient": "left", "values": [1,10,100,1000,1e4,1e5,1e6,1e7], "labels": false, "title": null}}}},
   {"data": {"values": [{}]}, "mark": {"type": "point", "opacity": 0},
    "encoding": {
     "x": {"datum": 90, "type": "quantitative", "scale": {"domain": [-5, 184], "nice": false, "zero": false}, "axis": {"orient": "top", "values": [0,30,60,90,120,150,180], "labels": false, "title": null}},
     "y": {"datum": 100, "type": "quantitative", "scale": {"type": "log", "domain": [1, 1e7], "nice": false}, "axis": {"orient": "right", "values": [1,10,100,1000,1e4,1e5,1e6,1e7], "labels": false, "title": null}}}}
  ],
  "resolve": {"axis": {"x": "independent", "y": "independent"}}},
 {"width": 189, "height": 134, "title": {"text": "Transfer", "font": "Liberation Serif", "fontSize": 19, "fontWeight": "normal", "color": "black", "anchor": "middle", "offset": 5}, "data": {"name": "r1"},
  "layer": [
   {"mark": {"type": "line", "clip": true, "color": "black", "strokeWidth": 1},
    "encoding": {
     "x": {"field": "x", "type": "quantitative", "scale": {"domain": [-5, 184], "nice": false, "zero": false}, "axis": {"orient": "bottom", "values": [0,30,60,90,120,150,180], "labels": false, "title": null}},
     "y": {"field": "y", "type": "quantitative", "scale": {"type": "log", "domain": [1, 1e7], "nice": false}, "axis": {"orient": "left", "values": [1,10,100,1000,1e4,1e5,1e6,1e7], "labels": false, "title": null}}}},
   {"data": {"values": [{}]}, "mark": {"type": "point", "opacity": 0},
    "encoding": {
     "x": {"datum": 90, "type": "quantitative", "scale": {"domain": [-5, 184], "nice": false, "zero": false}, "axis": {"orient": "top", "values": [0,30,60,90,120,150,180], "labels": false, "title": null}},
     "y": {"datum": 100, "type": "quantitative", "scale": {"type": "log", "domain": [1, 1e7], "nice": false}, "axis": {"orient": "right", "values": [1,10,100,1000,1e4,1e5,1e6,1e7], "labels": false, "title": null}}}}
  ],
  "resolve": {"axis": {"x": "independent", "y": "independent"}}},
 {"width": 189, "height": 135, "data": {"name": "t2"},
  "layer": [
   {"mark": {"type": "line", "clip": true, "color": "black", "strokeWidth": 1},
    "encoding": {
     "x": {"field": "x", "type": "quantitative", "scale": {"domain": [-5, 184], "nice": false, "zero": false}, "axis": {"orient": "bottom", "values": [0,30,60,90,120,150,180], "labels": false, "title": null}},
     "y": {"field": "y", "type": "quantitative", "scale": {"type": "log", "domain": [10, 1e8], "nice": false}, "axis": {"orient": "left", "values": [100,1000,1e4,1e5,1e6,1e7], "labelExpr": "round(log(datum.value)/LN10) % 2 == 1 ? '10' : ''", "labelFontSize": 15, "labelPadding": 17, "labelOffset": 4, "title": "Differential Cross Section (a.u.)"}}}},
   {"data": {"values": [{}]}, "mark": {"type": "point", "opacity": 0},
    "encoding": {
     "x": {"datum": 90, "type": "quantitative", "scale": {"domain": [-5, 184], "nice": false, "zero": false}, "axis": {"orient": "top", "values": [0,30,60,90,120,150,180], "labels": false, "title": null}},
     "y": {"datum": 1000, "type": "quantitative", "scale": {"type": "log", "domain": [10, 1e8], "nice": false}, "axis": {"orient": "right", "values": [100,1000,1e4,1e5,1e6,1e7], "labels": false, "title": null}}}},
   {"data": {"values": [{}]}, "mark": {"type": "point", "opacity": 0},
    "encoding": {
     "x": {"datum": 90, "type": "quantitative", "scale": {"domain": [-5, 184], "nice": false, "zero": false}, "axis": null},
     "y": {"datum": 1000, "type": "quantitative", "scale": {"type": "log", "domain": [10, 1e8], "nice": false}, "axis": {"orient": "left", "values": [1000,1e5,1e7], "ticks": false, "labelExpr": "format(round(log(datum.value)/LN10), 'd')", "labelFontSize": 11, "labelPadding": 5, "labelOffset": -4, "title": null}}}},
   {"data": {"values": [{"t": "E"}]}, "mark": {"type": "text", "fontStyle": "italic"},
    "encoding": {"text": {"field": "t"},
     "x": {"datum": 90, "type": "quantitative", "scale": {"domain": [-5, 184], "nice": false, "zero": false}, "axis": null},
     "y": {"datum": 2.9e6, "type": "quantitative", "scale": {"type": "log", "domain": [10, 1e8], "nice": false}, "axis": null}}},
   {"data": {"values": [{"t": "= 10"}]}, "mark": {"type": "text"},
    "encoding": {"text": {"field": "t"},
     "x": {"datum": 104, "type": "quantitative", "scale": {"domain": [-5, 184], "nice": false, "zero": false}, "axis": null},
     "y": {"datum": 2.9e6, "type": "quantitative", "scale": {"type": "log", "domain": [10, 1e8], "nice": false}, "axis": null}}},
   {"data": {"values": [{"t": "-5"}]}, "mark": {"type": "text", "fontSize": 11, "dy": -7},
    "encoding": {"text": {"field": "t"},
     "x": {"datum": 134, "type": "quantitative", "scale": {"domain": [-5, 184], "nice": false, "zero": false}, "axis": null},
     "y": {"datum": 2.9e6, "type": "quantitative", "scale": {"type": "log", "domain": [10, 1e8], "nice": false}, "axis": null}}},
   {"data": {"values": [{"t": "a.u."}]}, "mark": {"type": "text"},
    "encoding": {"text": {"field": "t"},
     "x": {"datum": 148, "type": "quantitative", "scale": {"domain": [-5, 184], "nice": false, "zero": false}, "axis": null},
     "y": {"datum": 2.9e6, "type": "quantitative", "scale": {"type": "log", "domain": [10, 1e8], "nice": false}, "axis": null}}}
  ],
  "resolve": {"axis": {"x": "independent", "y": "independent"}}},
 {"width": 189, "height": 135, "data": {"name": "e2"},
  "layer": [
   {"mark": {"type": "line", "clip": true, "color": "black", "strokeWidth": 1},
    "encoding": {
     "x": {"field": "x", "type": "quantitative", "scale": {"domain": [-5, 184], "nice": false, "zero": false}, "axis": {"orient": "bottom", "values": [0,30,60,90,120,150,180], "labels": false, "title": null}},
     "y": {"field": "y", "type": "quantitative", "scale": {"type": "log", "domain": [10, 1e8], "nice": false}, "axis": {"orient": "left", "values": [100,1000,1e4,1e5,1e6,1e7], "labels": false, "title": null}}}},
   {"data": {"values": [{}]}, "mark": {"type": "point", "opacity": 0},
    "encoding": {
     "x": {"datum": 90, "type": "quantitative", "scale": {"domain": [-5, 184], "nice": false, "zero": false}, "axis": {"orient": "top", "values": [0,30,60,90,120,150,180], "labels": false, "title": null}},
     "y": {"datum": 1000, "type": "quantitative", "scale": {"type": "log", "domain": [10, 1e8], "nice": false}, "axis": {"orient": "right", "values": [100,1000,1e4,1e5,1e6,1e7], "labels": false, "title": null}}}}
  ],
  "resolve": {"axis": {"x": "independent", "y": "independent"}}},
 {"width": 189, "height": 135, "data": {"name": "r2"},
  "layer": [
   {"mark": {"type": "line", "clip": true, "color": "black", "strokeWidth": 1},
    "encoding": {
     "x": {"field": "x", "type": "quantitative", "scale": {"domain": [-5, 184], "nice": false, "zero": false}, "axis": {"orient": "bottom", "values": [0,30,60,90,120,150,180], "labels": false, "title": null}},
     "y": {"field": "y", "type": "quantitative", "scale": {"type": "log", "domain": [10, 1e8], "nice": false}, "axis": {"orient": "left", "values": [100,1000,1e4,1e5,1e6,1e7], "labels": false, "title": null}}}},
   {"data": {"values": [{}]}, "mark": {"type": "point", "opacity": 0},
    "encoding": {
     "x": {"datum": 90, "type": "quantitative", "scale": {"domain": [-5, 184], "nice": false, "zero": false}, "axis": {"orient": "top", "values": [0,30,60,90,120,150,180], "labels": false, "title": null}},
     "y": {"datum": 1000, "type": "quantitative", "scale": {"type": "log", "domain": [10, 1e8], "nice": false}, "axis": {"orient": "right", "values": [100,1000,1e4,1e5,1e6,1e7], "labels": false, "title": null}}}}
  ],
  "resolve": {"axis": {"x": "independent", "y": "independent"}}},
 {"width": 189, "height": 135, "data": {"name": "t3"},
  "layer": [
   {"mark": {"type": "line", "clip": true, "color": "black", "strokeWidth": 1},
    "encoding": {
     "x": {"field": "x", "type": "quantitative", "scale": {"domain": [-5, 184], "nice": false, "zero": false}, "axis": {"orient": "bottom", "values": [0,30,60,90,120,150,180], "labelExpr": "datum.value % 60 == 0 ? datum.label : ''", "title": null}},
     "y": {"field": "y", "type": "quantitative", "scale": {"type": "log", "domain": [1000, 1e9], "nice": false}, "axis": {"orient": "left", "values": [1000,1e4,1e5,1e6,1e7,1e8,1e9], "labelExpr": "round(log(datum.value)/LN10) % 2 == 1 ? '10' : ''", "labelFontSize": 15, "labelPadding": 17, "labelOffset": 4, "title": null}}}},
   {"data": {"values": [{}]}, "mark": {"type": "point", "opacity": 0},
    "encoding": {
     "x": {"datum": 90, "type": "quantitative", "scale": {"domain": [-5, 184], "nice": false, "zero": false}, "axis": {"orient": "top", "values": [0,30,60,90,120,150,180], "labels": false, "title": null}},
     "y": {"datum": 1e5, "type": "quantitative", "scale": {"type": "log", "domain": [1000, 1e9], "nice": false}, "axis": {"orient": "right", "values": [1000,1e4,1e5,1e6,1e7,1e8,1e9], "labels": false, "title": null}}}},
   {"data": {"values": [{}]}, "mark": {"type": "point", "opacity": 0},
    "encoding": {
     "x": {"datum": 90, "type": "quantitative", "scale": {"domain": [-5, 184], "nice": false, "zero": false}, "axis": null},
     "y": {"datum": 1e5, "type": "quantitative", "scale": {"type": "log", "domain": [1000, 1e9], "nice": false}, "axis": {"orient": "left", "values": [1000,1e5,1e7,1e9], "ticks": false, "labelExpr": "format(round(log(datum.value)/LN10), 'd')", "labelFontSize": 11, "labelPadding": 5, "labelOffset": -4, "title": null}}}},
   {"data": {"values": [{"t": "E"}]}, "mark": {"type": "text", "fontStyle": "italic"},
    "encoding": {"text": {"field": "t"},
     "x": {"datum": 90, "type": "quantitative", "scale": {"domain": [-5, 184], "nice": false, "zero": false}, "axis": null},
     "y": {"datum": 3.2e7, "type": "quantitative", "scale": {"type": "log", "domain": [1000, 1e9], "nice": false}, "axis": null}}},
   {"data": {"values": [{"t": "= 10"}]}, "mark": {"type": "text"},
    "encoding": {"text": {"field": "t"},
     "x": {"datum": 104, "type": "quantitative", "scale": {"domain": [-5, 184], "nice": false, "zero": false}, "axis": null},
     "y": {"datum": 3.2e7, "type": "quantitative", "scale": {"type": "log", "domain": [1000, 1e9], "nice": false}, "axis": null}}},
   {"data": {"values": [{"t": "-10"}]}, "mark": {"type": "text", "fontSize": 11, "dy": -7},
    "encoding": {"text": {"field": "t"},
     "x": {"datum": 134, "type": "quantitative", "scale": {"domain": [-5, 184], "nice": false, "zero": false}, "axis": null},
     "y": {"datum": 3.2e7, "type": "quantitative", "scale": {"type": "log", "domain": [1000, 1e9], "nice": false}, "axis": null}}},
   {"data": {"values": [{"t": "a.u."}]}, "mark": {"type": "text"},
    "encoding": {"text": {"field": "t"},
     "x": {"datum": 153, "type": "quantitative", "scale": {"domain": [-5, 184], "nice": false, "zero": false}, "axis": null},
     "y": {"datum": 3.2e7, "type": "quantitative", "scale": {"type": "log", "domain": [1000, 1e9], "nice": false}, "axis": null}}}
  ],
  "resolve": {"axis": {"x": "independent", "y": "independent"}}},
 {"width": 189, "height": 135, "data": {"name": "e3"},
  "layer": [
   {"mark": {"type": "line", "clip": true, "color": "black", "strokeWidth": 1},
    "encoding": {
     "x": {"field": "x", "type": "quantitative", "scale": {"domain": [-5, 184], "nice": false, "zero": false}, "axis": {"orient": "bottom", "values": [0,30,60,90,120,150,180], "labelExpr": "datum.value % 60 == 0 ? datum.label : ''", "title": "Angle θ (degree)", "titleFontSize": 20, "titlePadding": 2}},
     "y": {"field": "y", "type": "quantitative", "scale": {"type": "log", "domain": [1000, 1e9], "nice": false}, "axis": {"orient": "left", "values": [1000,1e4,1e5,1e6,1e7,1e8,1e9], "labels": false, "title": null}}}},
   {"data": {"values": [{}]}, "mark": {"type": "point", "opacity": 0},
    "encoding": {
     "x": {"datum": 90, "type": "quantitative", "scale": {"domain": [-5, 184], "nice": false, "zero": false}, "axis": {"orient": "top", "values": [0,30,60,90,120,150,180], "labels": false, "title": null}},
     "y": {"datum": 1e5, "type": "quantitative", "scale": {"type": "log", "domain": [1000, 1e9], "nice": false}, "axis": {"orient": "right", "values": [1000,1e4,1e5,1e6,1e7,1e8,1e9], "labels": false, "title": null}}}}
  ],
  "resolve": {"axis": {"x": "independent", "y": "independent"}}},
 {"width": 189, "height": 135, "data": {"name": "r3"},
  "layer": [
   {"mark": {"type": "line", "clip": true, "color": "black", "strokeWidth": 1},
    "encoding": {
     "x": {"field": "x", "type": "quantitative", "scale": {"domain": [-5, 184], "nice": false, "zero": false}, "axis": {"orient": "bottom", "values": [0,30,60,90,120,150,180], "labelExpr": "datum.value % 60 == 0 ? datum.label : ''", "title": null}},
     "y": {"field": "y", "type": "quantitative", "scale": {"type": "log", "domain": [1000, 1e9], "nice": false}, "axis": {"orient": "left", "values": [1000,1e4,1e5,1e6,1e7,1e8,1e9], "labels": false, "title": null}}}},
   {"data": {"values": [{}]}, "mark": {"type": "point", "opacity": 0},
    "encoding": {
     "x": {"datum": 90, "type": "quantitative", "scale": {"domain": [-5, 184], "nice": false, "zero": false}, "axis": {"orient": "top", "values": [0,30,60,90,120,150,180], "labels": false, "title": null}},
     "y": {"datum": 1e5, "type": "quantitative", "scale": {"type": "log", "domain": [1000, 1e9], "nice": false}, "axis": {"orient": "right", "values": [1000,1e4,1e5,1e6,1e7,1e8,1e9], "labels": false, "title": null}}}}
  ],
  "resolve": {"axis": {"x": "independent", "y": "independent"}}}
]
}
